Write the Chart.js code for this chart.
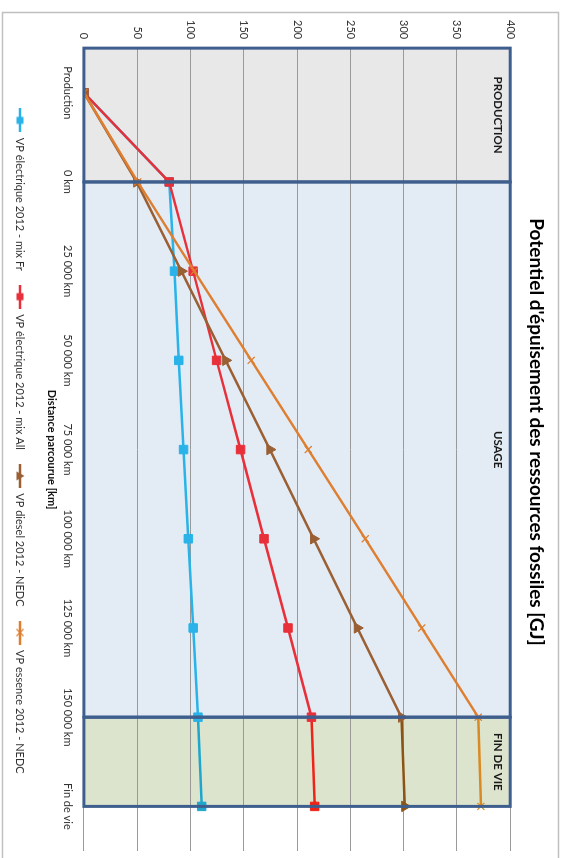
<!DOCTYPE html>
<html lang="fr">
<head>
<meta charset="UTF-8">
<title>Potentiel d'épuisement des ressources fossiles</title>
<script src="https://cdn.jsdelivr.net/npm/chart.js"></script>
<style>
    html, body {
        margin: 0;
        padding: 0;
        background: #fff;
        overflow: hidden;
    }
    /* the chart is laid out landscape and turned a quarter turn clockwise */
    #wrap {
        position: absolute;
        left: 0;
        top: 0;
        width: 858px;
        height: 563px;
        transform-origin: 0 0;
        transform: translate(563px, 0) rotate(90deg);
    }
</style>
</head>
<body>
<div id="wrap"><canvas id="chart" width="858" height="563"></canvas></div>
<script>
const categories = ['Production', '0 km', '25 000 km', '50 000 km', '75 000 km', '100 000 km', '125 000 km', '150 000 km', 'Fin de vie'];
const seriesLabels = ['VP électrique 2012 - mix Fr', 'VP électrique 2012 - mix All', 'VP diesel 2012 - NEDC', 'VP essence 2012 - NEDC'];
const elecFr   = [0, 80, 85, 89, 93.5, 98, 102.5, 107, 110.5];
const elecAll  = [0, 80, 102.5, 124.5, 147, 169, 191.5, 213.5, 216.5];
const diesel   = [0, 49.5, 91.5, 133, 174.5, 215.5, 256.5, 298, 301];
const essence  = [0, 50.5, 103.5, 157, 210.5, 264, 317, 370, 372.5];
const yMin = 0, yMax = 400, yStep = 50;
// life-cycle phases, as category indices (-0.5 = start of the axis)
const phaseLabels = ['PRODUCTION', 'USAGE', 'FIN DE VIE'];
const phaseFrom = [-0.5, 1, 7];
const phaseTo = [1, 7, 8];

const phaseFills = ['#e8e8e8', '#e3ebf5', '#dde4cd'];
const phaseBorder = '#3e5f8e';
const font = 'Lato, "Liberation Sans", sans-serif';

const colors = ['#29b3e8', '#e8303a', '#9a5f32', '#dd7e30'];
const lastColors = ['#1fa6cc', '#ee2418', '#8b5416', '#d98a22'];
const styles = ['rect', 'rect', 'triangle', 'crossRot'];

function legendIcon(i) {
    const c = document.createElement('canvas');
    c.width = 24; c.height = 12;
    const g = c.getContext('2d');
    g.strokeStyle = colors[i];
    g.fillStyle = colors[i];
    g.lineWidth = 2.5;
    g.beginPath(); g.moveTo(0, 6); g.lineTo(24, 6); g.stroke();
    if (styles[i] === 'rect') {
        g.fillRect(8.5, 2.5, 7, 7);
    } else if (styles[i] === 'triangle') {
        g.beginPath(); g.moveTo(12, 1.5); g.lineTo(16.5, 9.5); g.lineTo(7.5, 9.5); g.closePath(); g.fill();
    } else {
        g.lineWidth = 1.2;
        g.beginPath(); g.moveTo(8.5, 2.5); g.lineTo(15.5, 9.5); g.moveTo(15.5, 2.5); g.lineTo(8.5, 9.5); g.stroke();
    }
    return c;
}

function makeSet(i, values, radius, order) {
    return {
        label: seriesLabels[i],
        data: values,
        order: order,
        borderColor: colors[i],
        borderWidth: 2.5,
        pointStyle: ctx => (i === 2 && ctx.dataIndex === 0) ? 'rect' : styles[i],
        pointRadius: radius,
        pointHoverRadius: radius,
        pointBackgroundColor: ctx => ctx.dataIndex === 8 ? lastColors[i] : colors[i],
        pointBorderColor: ctx => ctx.dataIndex === 8 ? lastColors[i] : colors[i],
        pointBorderWidth: styles[i] === 'crossRot' ? 1.2 : 1,
        tension: 0,
        segment: {
            borderColor: ctx => ctx.p1DataIndex === 8 ? lastColors[i] : undefined
        }
    };
}

const phasePlugin = {
    id: 'phases',
    beforeDraw(chart) {
        const {ctx, scales: {x, y}} = chart;
        // nudge the legend row a little to the right, as in the original
        chart.legend.left += 9;
        chart.legend.right += 9;
        ctx.save();
        ctx.strokeStyle = '#c0c0c0';
        ctx.lineWidth = 1.5;
        ctx.strokeRect(12.5, 4.5, 900, 556);
        const top = y.getPixelForValue(yMax), bottom = y.getPixelForValue(yMin);
        phaseLabels.forEach((p, i) => {
            const x0 = x.getPixelForValue(phaseFrom[i]), x1 = x.getPixelForValue(phaseTo[i]);
            ctx.fillStyle = phaseFills[i];
            ctx.fillRect(x0, top, x1 - x0, bottom - top);
        });
        ctx.restore();
    },
    afterDatasetsDraw(chart) {
        const {ctx, scales: {x, y}} = chart;
        const top = y.getPixelForValue(yMax), bottom = y.getPixelForValue(yMin);
        ctx.save();
        ctx.strokeStyle = phaseBorder;
        ctx.lineWidth = 3;
        phaseLabels.forEach((p, i) => {
            const x0 = x.getPixelForValue(phaseFrom[i]), x1 = x.getPixelForValue(phaseTo[i]);
            ctx.strokeRect(x0, top, x1 - x0, bottom - top);
            ctx.fillStyle = '#1a1a1a';
            ctx.font = 'bold 11.5px ' + font;
            ctx.textAlign = 'center';
            ctx.textBaseline = 'middle';
            ctx.fillText(p, (x0 + x1) / 2, top + 12);
        });
        ctx.restore();
    }
};

new Chart(document.getElementById('chart'), {
    type: 'line',
    data: {
        labels: categories,
        datasets: [
            makeSet(0, elecFr, 6, 3),
            makeSet(1, elecAll, 6, 2),
            makeSet(2, diesel, 6, 1),
            makeSet(3, essence, 5, 0)
        ]
    },
    options: {
        responsive: false,
        animation: false,
        devicePixelRatio: 1,
        layout: { padding: { left: 11, right: 5, top: 0, bottom: 4.5 } },
        plugins: {
            title: {
                display: true,
                text: "Potentiel d'épuisement des ressources fossiles [GJ]",
                color: '#000',
                font: { family: font, size: 19, weight: 'bold' },
                padding: { top: 15, bottom: 15 }
            },
            legend: {
                position: 'bottom',
                labels: {
                    usePointStyle: true,
                    pointStyleWidth: 24,
                    padding: 14,
                    color: '#333',
                    font: { family: font, size: 11 },
                    generateLabels: chart => chart.data.datasets.map((d, i) => ({
                        text: d.label,
                        pointStyle: legendIcon(i),
                        fillStyle: colors[i],
                        strokeStyle: colors[i],
                        lineWidth: 0,
                        fontColor: '#333',
                        datasetIndex: i
                    }))
                }
            },
            tooltip: { enabled: false }
        },
        scales: {
            x: {
                offset: true,
                grid: { display: false, drawTicks: false },
                border: { display: false },
                ticks: { color: '#333', font: { family: font, size: 11 }, padding: 10, maxRotation: 0, autoSkip: false },
                title: {
                    display: true,
                    text: 'Distance parcourue [km]',
                    color: '#111',
                    font: { family: font, size: 11, weight: 'bold' },
                    padding: { top: -7, bottom: 5 }
                }
            },
            y: {
                min: yMin,
                max: yMax,
                grid: { color: '#9a9a9a', lineWidth: 1, drawTicks: false },
                border: { display: false },
                ticks: { stepSize: yStep, color: '#333', font: { family: font, size: 11 }, padding: 9 }
            }
        }
    },
    plugins: [phasePlugin]
});
</script>
</body>
</html>
